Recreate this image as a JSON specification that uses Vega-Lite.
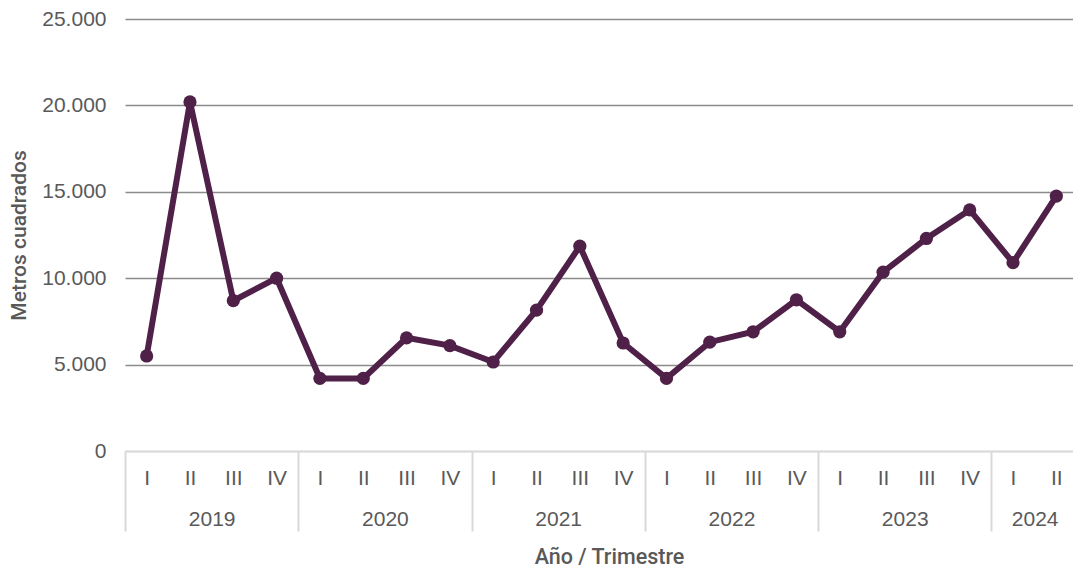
{
  "$schema": "https://vega.github.io/schema/vega-lite/v6.json",
  "autosize": "none",
  "width": 953,
  "height": 432,
  "padding": {"left": 125, "top": 19, "right": 0, "bottom": 120},
  "background": "white",
  "config": {
    "view": {"stroke": null},
    "font": "Liberation Sans",
    "axis": {"labelFont": "Liberation Sans", "titleFont": "Roboto", "labelColor": "#595959", "titleColor": "#595959"}
  },
  "data": {"values": [
    {"i": 0, "year": 2019, "q": "I", "v": 5500},
    {"i": 1, "year": 2019, "q": "II", "v": 20200},
    {"i": 2, "year": 2019, "q": "III", "v": 8700},
    {"i": 3, "year": 2019, "q": "IV", "v": 10000},
    {"i": 4, "year": 2020, "q": "I", "v": 4200},
    {"i": 5, "year": 2020, "q": "II", "v": 4200},
    {"i": 6, "year": 2020, "q": "III", "v": 6550},
    {"i": 7, "year": 2020, "q": "IV", "v": 6100},
    {"i": 8, "year": 2021, "q": "I", "v": 5150},
    {"i": 9, "year": 2021, "q": "II", "v": 8150},
    {"i": 10, "year": 2021, "q": "III", "v": 11850},
    {"i": 11, "year": 2021, "q": "IV", "v": 6250},
    {"i": 12, "year": 2022, "q": "I", "v": 4200},
    {"i": 13, "year": 2022, "q": "II", "v": 6300},
    {"i": 14, "year": 2022, "q": "III", "v": 6900},
    {"i": 15, "year": 2022, "q": "IV", "v": 8750},
    {"i": 16, "year": 2023, "q": "I", "v": 6900},
    {"i": 17, "year": 2023, "q": "II", "v": 10350},
    {"i": 18, "year": 2023, "q": "III", "v": 12300},
    {"i": 19, "year": 2023, "q": "IV", "v": 13950},
    {"i": 20, "year": 2024, "q": "I", "v": 10900},
    {"i": 21, "year": 2024, "q": "II", "v": 14750}
  ]},
  "encoding": {
    "y": {
      "field": "v", "type": "quantitative",
      "scale": {"domain": [0, 25000], "nice": false},
      "axis": {
        "title": "Metros cuadrados",
        "values": [0, 5000, 10000, 15000, 20000, 25000],
        "labelExpr": "replace(format(datum.value, ',d'), ',', '.')",
        "labelFontSize": 21,
        "labelPadding": 19,
        "ticks": false,
        "domain": false,
        "grid": true,
        "gridColor": {"condition": {"test": "datum.value == 0", "value": "#d9d9d9"}, "value": "#8c8c8c"},
        "gridWidth": 1.5,
        "titleFontSize": 21,
        "titleFontWeight": 500,
        "titlePadding": 12
      }
    }
  },
  "resolve": {"axis": {"x": "independent"}},
  "layer": [
    {
      "mark": {"type": "line", "color": "#4f2048", "strokeWidth": 6, "strokeJoin": "miter"},
      "encoding": {
        "x": {
          "field": "i", "type": "quantitative",
          "scale": {"domain": [-0.5, 21.5], "nice": false, "zero": false},
          "axis": {
            "orient": "bottom",
            "title": "Año / Trimestre",
            "titleFontSize": 21.5,
            "titleFontWeight": 500,
            "titleY": 95,
            "titleX": 484,
            "values": [0,1,2,3,4,5,6,7,8,9,10,11,12,13,14,15,16,17,18,19,20,21],
            "labelExpr": "['I','II','III','IV'][datum.value % 4]",
            "labelFontSize": 21,
            "labelPadding": 16,
            "labelBaseline": "top",
            "labelFlush": false,
            "labelOverlap": false,
            "ticks": false,
            "grid": false,
            "domain": true,
            "domainColor": "#d9d9d9",
            "domainWidth": 2
          }
        }
      }
    },
    {
      "mark": {"type": "point", "filled": true, "opacity": 1, "color": "#4f2048", "size": 175},
      "encoding": {
        "x": {
          "field": "i", "type": "quantitative",
          "axis": {
            "orient": "bottom",
            "title": null,
            "values": [1.5, 5.5, 9.5, 13.5, 17.5, 20.5],
            "labelExpr": "datum.value < 2 ? '2019' : datum.value < 6 ? '2020' : datum.value < 10 ? '2021' : datum.value < 14 ? '2022' : datum.value < 18 ? '2023' : '2024'",
            "labelFontSize": 21,
            "labelPadding": 57,
            "labelBaseline": "top",
            "labelFlush": false,
            "labelOverlap": false,
            "ticks": false,
            "grid": false,
            "domain": false
          }
        }
      }
    },
    {
      "mark": {"type": "point", "opacity": 0},
      "encoding": {
        "x": {
          "field": "i", "type": "quantitative",
          "axis": {
            "orient": "bottom",
            "title": null,
            "values": [-0.5, 3.5, 7.5, 11.5, 15.5, 19.5],
            "labels": false,
            "ticks": true,
            "tickSize": 80,
            "tickColor": "#d9d9d9",
            "tickWidth": 2,
            "grid": false,
            "domain": false
          }
        }
      }
    }
  ]
}
